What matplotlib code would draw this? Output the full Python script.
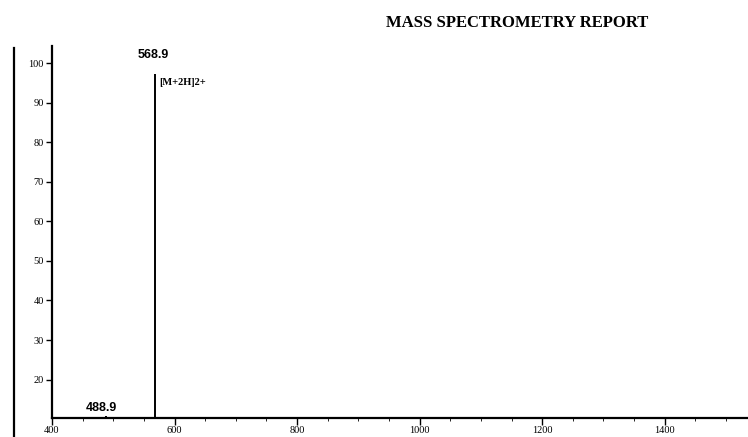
import matplotlib
matplotlib.use("Agg")
import matplotlib.pyplot as plt
from matplotlib.lines import Line2D

# peaks (m/z, relative intensity)
peak_mz = [488.9, 568.9]
peak_int = [10.8, 97.2]
peak_labels = ["488.9", "568.9"]
ion_label = "[M+2H]2+"

x_ticks = [400, 600, 800, 1000, 1200, 1400]
y_ticks = [20, 30, 40, 50, 60, 70, 80, 90, 100]

fig = plt.figure(figsize=(7.48, 4.37), dpi=100)
ax = fig.add_axes([0.0695, 0.0435, 0.9305, 0.851])

ax.vlines(peak_mz, 10.3, peak_int, color="black", lw=1.4)

ax.set_xlim(400, 1536)
ax.set_ylim(10.3, 104.3)
ax.set_xticks(x_ticks)
ax.set_xticks(range(450, 1536, 50), minor=True)
ax.set_yticks(y_ticks)
ax.tick_params(axis="both", direction="out", width=1, colors="black")
ax.tick_params(axis="y", length=4, labelsize=7.5, pad=2)
ax.tick_params(axis="x", length=5, labelsize=7.5, pad=1)
ax.tick_params(axis="x", which="minor", length=2.5)
for lbl in ax.get_xticklabels() + ax.get_yticklabels():
    lbl.set_family("Liberation Serif")

for s in ("top", "right"):
    ax.spines[s].set_visible(False)
for s in ("left", "bottom"):
    ax.spines[s].set_linewidth(1.6)

ax.text(peak_mz[1] - 3, 100.6, peak_labels[1], ha="center", va="bottom",
        fontsize=9, family="Liberation Sans", fontweight="bold")
ax.text(peak_mz[0] - 8, 11.4, peak_labels[0], ha="center", va="bottom",
        fontsize=9, family="Liberation Sans", fontweight="bold")
ax.text(peak_mz[1] + 6, 95, ion_label, ha="left", va="center",
        fontsize=7.5, family="Liberation Serif", fontweight="bold")

fig.text(0.691, 0.948, "MASS SPECTROMETRY REPORT", ha="center", va="center",
         fontsize=12, family="Liberation Serif", fontweight="bold")

# scan border on the far left
fig.add_artist(Line2D([0.0187, 0.0187], [0.0, 0.89], color="black", lw=1.6,
                      transform=fig.transFigure))

fig.savefig("out.png", dpi=100)
